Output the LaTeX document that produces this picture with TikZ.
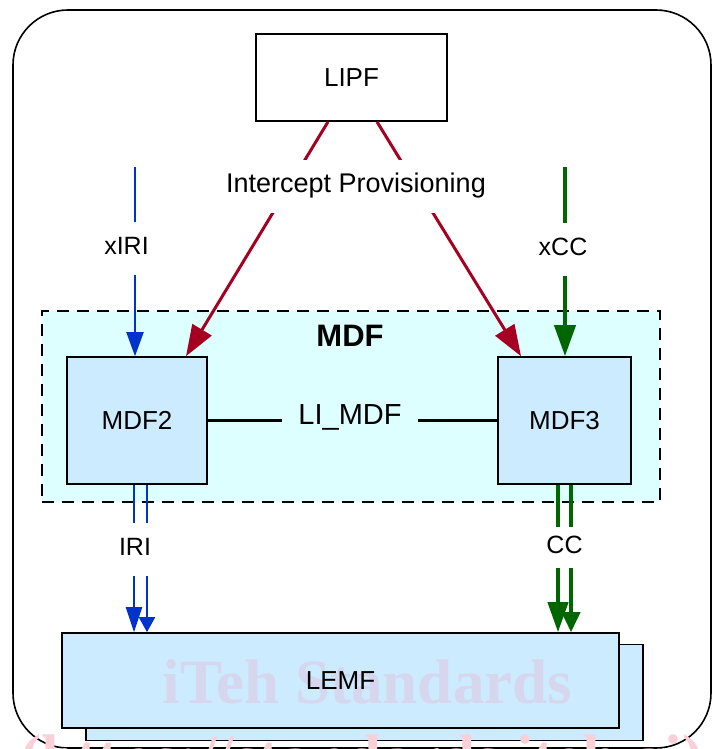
\documentclass[tikz,border=0pt]{standalone}
\usepackage{fontspec}
\setmainfont{Liberation Sans}
\newfontfamily\wmfont{Liberation Serif}
\usetikzlibrary{arrows.meta}
\definecolor{redc}{HTML}{A50021}
\definecolor{bluec}{HTML}{0033CC}
\definecolor{greenc}{HTML}{006600}
\definecolor{mdfbg}{HTML}{DDFFFF}
\definecolor{boxbg}{HTML}{CCEBFF}
\definecolor{wmA}{RGB}{214,214,238}
\definecolor{wmB}{RGB}{248,208,216}
\begin{document}
\begin{tikzpicture}[x=1pt,y=-1pt,
  box/.style={draw=black, line width=1.6pt, fill=boxbg, inner sep=0pt,
    font=\fontsize{26}{30}\selectfont},
  lbl/.style={fill=white, inner xsep=5pt, inner ysep=14pt, text height=19pt,
    text depth=6pt, font=\fontsize{25}{30}\selectfont},
  redarr/.style={draw=redc, line width=3pt, -{Triangle[length=31pt,width=22pt]}},
  bluearr/.style={draw=bluec, line width=2pt},
  greenarr/.style={draw=greenc, line width=4pt},
  wm/.style={font=\wmfont\bfseries\fontsize{63}{70}\selectfont, anchor=base, inner sep=0pt}
]
\useasboundingbox (0,0) rectangle (712,749);
\clip (0,0) rectangle (712,749);
% outer frame
\draw[line width=1.6pt, rounded corners=55pt] (13,10) rectangle (711,748);
% MDF group
\node[draw=black, line width=1.3pt, dash pattern=on 12pt off 8pt, fill=mdfbg,
  minimum width=618pt, minimum height=191pt, inner sep=0pt] (mdf) at (351,406.5) {};
\node[font=\bfseries\fontsize{31}{34}\selectfont, inner sep=0pt] (mdflbl) at (350,336) {MDF};
% boxes
\node[box, minimum width=140pt, minimum height=127pt] (mdf2) at (137,420.5) {MDF2};
\node[box, minimum width=133pt, minimum height=127pt] (mdf3) at (564.5,420.5) {MDF3};
\node[box, fill=white, minimum width=191pt, minimum height=87pt] (lipf) at (351.5,77.5) {LIPF};
\node[box, minimum width=557pt, minimum height=96pt] (lemfb) at (364.5,692.5) {};
\node[box, minimum width=557pt, minimum height=95pt] (lemf) at (340.5,680.5) {};
\node[wm, text=wmA] (wm1) at (367.5,703) {iTeh Standards};
\node[font=\fontsize{26}{30}\selectfont, inner sep=0pt] (lemftxt) at (lemf.center) {LEMF};
% free ends
\coordinate (xiri) at (135,167);
\coordinate (xcc) at (565,167);
% connectors
\draw[redarr] (lipf.south -| 328,0) -- (mdf2.north -| 186,0);
\draw[redarr] (lipf.south -| 377,0) -- (mdf3.north -| 521,0);
\draw[bluearr, -{Triangle[length=24pt,width=17pt]}] (xiri) -- (mdf2.north -| xiri);
\draw[greenarr, -{Triangle[length=31pt,width=21pt]}] (xcc) -- (mdf3.north -| xcc);
\draw[bluearr, -{Triangle[length=25pt,width=16pt]}] (mdf2.south -| 134,0) -- (lemf.north -| 134,0);
\draw[bluearr, -{Triangle[length=15pt,width=16pt]}] (mdf2.south -| 147,0) -- (lemf.north -| 147,0);
\draw[greenarr, -{Triangle[length=30pt,width=20pt]}] (mdf3.south -| 558,0) -- (lemf.north -| 558,0);
\draw[greenarr, -{Triangle[length=20pt,width=18pt]}] (mdf3.south -| 571,0) -- (lemf.north -| 571,0);
\draw[draw=black, line width=3.5pt] (mdf2.east) -- (mdf3.west);
% labels
\node[lbl, font=\fontsize{27}{30}\selectfont] (ip) at (356,186) {Intercept Provisioning};
\node[lbl] (lxiri) at (126.5,248) {xIRI};
\node[lbl] (lxcc) at (563,249) {xCC};
\node[lbl] (liri) at (135,549) {IRI};
\node[lbl, inner ysep=8pt] (lcc) at (564.5,547) {CC};
\node[lbl, fill=mdfbg, inner xsep=16pt, inner ysep=4pt, font=\fontsize{29}{32}\selectfont] (llimdf) at (350,418) {LI\_MDF};
% bottom watermark
\node[wm, text=wmB] (wm2) at (362,778) {(https://standards.iteh.ai)};
\end{tikzpicture}
\end{document}
